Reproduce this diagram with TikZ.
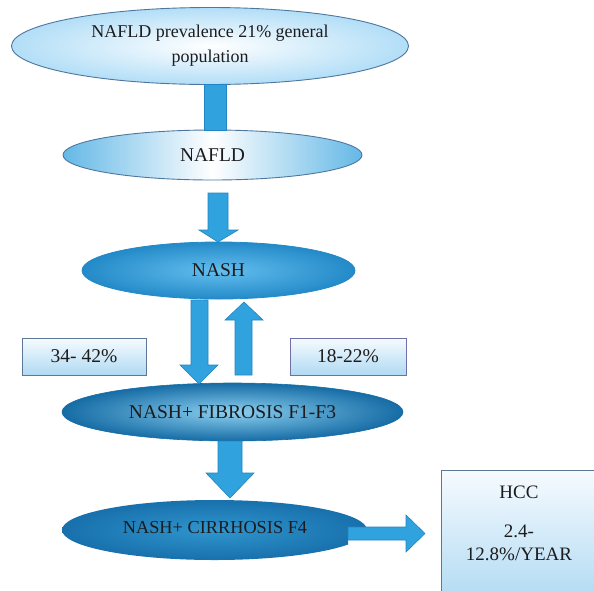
\documentclass[tikz,border=0pt]{standalone}
\usepackage{fontspec}
\setmainfont{Liberation Serif}
\usetikzlibrary{shapes.geometric}

\definecolor{inkc}{RGB}{28,28,30}
\definecolor{paleblue}{RGB}{178,222,247}
\definecolor{paleedge}{RGB}{78,118,158}
\definecolor{lightend}{RGB}{100,184,230}
\definecolor{nashin}{RGB}{100,190,238}
\definecolor{nashout}{RGB}{35,138,200}
\definecolor{fibin}{RGB}{140,208,240}
\definecolor{fibout}{RGB}{22,108,165}
\definecolor{cirin}{RGB}{48,150,205}
\definecolor{cirout}{RGB}{24,112,172}
\definecolor{arrowblue}{RGB}{48,163,222}
\definecolor{arrowedge}{RGB}{34,132,192}
\definecolor{boxtop}{RGB}{246,251,254}
\definecolor{boxbottom}{RGB}{176,218,243}
\definecolor{boxedge}{RGB}{92,120,150}
\definecolor{boxedgeb}{RGB}{112,112,168}

\begin{document}
\begin{tikzpicture}[x=1pt,y=-1pt,
  oval/.style={ellipse, inner sep=0pt, text=inkc, align=center},
  blockarrow/.style={fill=arrowblue, draw=arrowedge, line width=0.6pt, line join=miter},
  infobox/.style={rectangle, inner sep=0pt, top color=boxtop, bottom color=boxbottom,
                  draw=boxedge, line width=0.8pt, text=inkc},
  label/.style={inner sep=0pt, text=inkc, align=center}]
\useasboundingbox (0,0) rectangle (594,590);

% stages of the disease
\node[oval, minimum width=397pt, minimum height=77pt,
      inner color=white, outer color=paleblue, draw=paleedge, line width=0.9pt,
      font=\fontsize{18}{25}\selectfont] (prev) at (210,46)
      {NAFLD prevalence 21\% general\\population};
\node[oval, minimum width=299pt, minimum height=50pt,
      left color=lightend, right color=lightend, middle color=white,
      draw=paleedge, line width=0.9pt,
      font=\fontsize{19.5}{22}\selectfont] (nafld) at (212.5,155) {NAFLD};
\node[oval, minimum width=273pt, minimum height=57pt,
      inner color=nashin, outer color=nashout, draw=nashout, line width=0.8pt,
      font=\fontsize{19.5}{22}\selectfont] (nash) at (218.5,270.5) {NASH};
\node[oval, minimum width=341pt, minimum height=58pt,
      inner color=fibin, outer color=fibout, draw=fibout, line width=0.6pt,
      font=\fontsize{19.5}{22}\selectfont] (fib) at (232.5,412) {NASH+ FIBROSIS F1-F3};
\begin{scope}
  \clip (0,0) rectangle (348,590) (348,0) rectangle (594,530);
  \node[oval, minimum width=305pt, minimum height=60pt,
        inner color=cirin, outer color=cirout] (cir) at (214.5,530) {};
\end{scope}
\node[label, font=\fontsize{18.3}{22}\selectfont] (cirtext) at (215,528) {NASH+ CIRRHOSIS F4};

% transition rates
\node[infobox, minimum width=124pt, minimum height=37pt,
      font=\fontsize{19.5}{22}\selectfont] (down) at (84,356.5) {34- 42\%};
\node[infobox, draw=boxedgeb, minimum width=116pt, minimum height=37pt,
      font=\fontsize{19.5}{22}\selectfont] (up) at (348,356.5) {18-22\%};
\node[infobox, minimum width=160pt, minimum height=132pt] (hccbox) at (521,536) {};
\node[label, font=\fontsize{19}{22}\selectfont] (hcc) at (519,492) {HCC};
\node[label, font=\fontsize{19}{23.5}\selectfont] (rate) at (519,543) {2.4-\\12.8\%/YEAR};

% connectors
\draw[blockarrow] (204,84.5) rectangle (226,130.5);
\draw[blockarrow] (208,193) -- (228,193) -- (228,230) -- (238,230) -- (218,242)
                  -- (199,230) -- (208,230) -- cycle;
\draw[blockarrow] (191,300) -- (208,300) -- (208,365) -- (218,365) -- (199,384)
                  -- (180,365) -- (191,365) -- cycle;
\draw[blockarrow] (235,375) -- (252,375) -- (252,320) -- (263,320) -- (244,302)
                  -- (225,320) -- (235,320) -- cycle;
\draw[blockarrow] (218,441) -- (242,441) -- (242,473) -- (254,473) -- (230,498)
                  -- (206,473) -- (218,473) -- cycle;
\draw[blockarrow] (348,527) -- (406,527) -- (406,515) -- (425,533.5) -- (406,552)
                  -- (406,540) -- (348,540) -- cycle;
\end{tikzpicture}
\end{document}
